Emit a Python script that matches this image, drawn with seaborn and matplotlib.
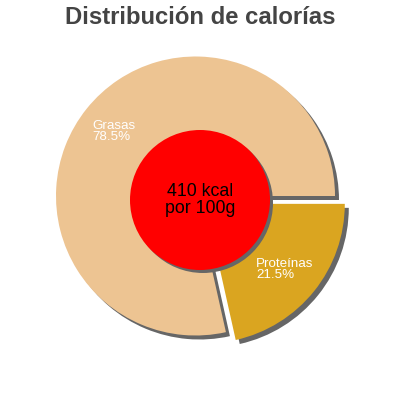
import matplotlib
matplotlib.use("Agg")
import matplotlib.pyplot as plt
import seaborn as sns
from matplotlib.patches import Circle

title = "Distribución de calorías"
categories = ["Grasas", "Proteínas"]
percentages = [78.5, 21.5]
colors = ["#EDC492", "#DAA520"]
center_text = "410 kcal\npor 100g"

sns.set_theme(style="white")
plt.rcParams["font.family"] = ["Liberation Sans", "DejaVu Sans"]

fig = plt.figure(figsize=(4, 4), dpi=100)
ax = fig.add_axes([0, 0, 1, 1])
ax.set_axis_off()

R = 139.5
cx, cy = 195.5, 196.0
def px(x, y):
    return (x - cx) / R, (cy - y) / R

explode = [0, 0.09]
sh = 4 / R
# shadow
ax.pie(percentages, colors=["#666666"] * 2, startangle=0, counterclock=True,
       explode=explode, center=(sh, -sh), radius=1,
       wedgeprops=dict(linewidth=0))
ax.pie(percentages, colors=colors, startangle=0, counterclock=True,
       explode=explode, center=(0, 0), radius=1,
       wedgeprops=dict(linewidth=0))

ccx, ccy = px(200, 200)
ax.add_patch(Circle((ccx + 3 / R, ccy - 3 / R), 70 / R, color="#666666", lw=0, zorder=5))
ax.add_patch(Circle((ccx, ccy), 70 / R, color="#FF0000", lw=0, zorder=6))
ax.text(ccx, ccy, center_text, ha="center", va="center", fontsize=12.8,
        color="black", zorder=7, linespacing=1.0)

lx, ly = px(92, 120)
ax.text(lx, ly, f"{categories[0]}\n{percentages[0]}%", ha="left", va="top",
        color="white", fontsize=9.6, linespacing=0.92, zorder=7)
lx, ly = px(256, 258)
ax.text(lx, ly, f"{categories[1]}\n{percentages[1]}%", ha="left", va="top",
        color="white", fontsize=9.6, linespacing=0.92, zorder=7)

ax.set_xlim(-cx / R, (400 - cx) / R)
ax.set_ylim((cy - 400) / R, cy / R)
ax.set_aspect("equal")

fig.text(0.5, 1 - 17 / 400, title, ha="center", va="center", fontsize=17.2,
         fontweight="bold", color="#444444")

fig.savefig("out.png", dpi=100, facecolor="white")
